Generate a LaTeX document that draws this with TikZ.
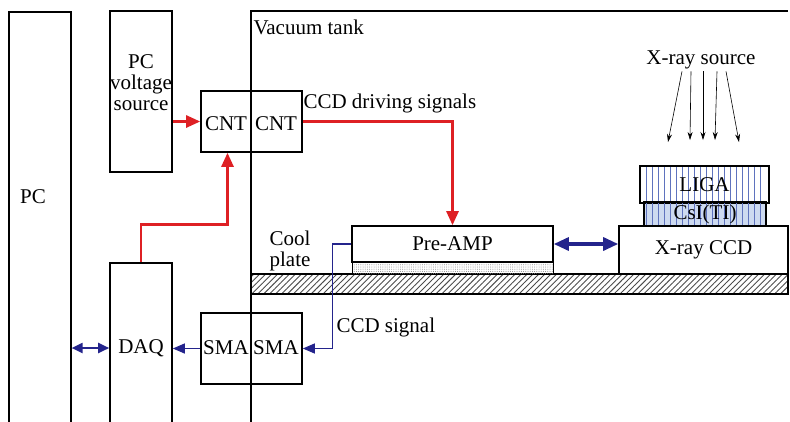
\documentclass[tikz,border=0pt]{standalone}
\usepackage{fontspec}
\setmainfont{Liberation Serif}
\usetikzlibrary{arrows.meta,patterns.meta}
\definecolor{sigred}{RGB}{222,32,36}
\definecolor{sigblue}{RGB}{36,36,140}
\definecolor{csiblue}{RGB}{205,218,240}
\definecolor{ligaline}{RGB}{95,115,190}
\tikzset{
  box/.style={draw,line width=1.6pt,inner sep=0pt},
  drive/.style={sigred,line width=2.6pt,-{Triangle[length=14pt,width=12pt]}},
  readout/.style={sigblue,line width=1.2pt,-{Triangle[length=12pt,width=10pt]}},
  link/.style={sigblue,line width=2pt,{Triangle[length=11pt,width=10pt]}-{Triangle[length=11pt,width=10pt]}},
  ray/.style={line width=0.6pt,-{Stealth[length=8pt,width=5pt]}},
  vline/.style={ligaline,line width=0.6pt},
}
\begin{document}
\begin{tikzpicture}[x=1pt,y=-1pt,font=\fontsize{21}{21}\selectfont]
  \useasboundingbox (0,0) rectangle (790,421);
  \clip (0,0) rectangle (790,421);
  % PC, runs off the bottom
  \node[box,anchor=north west,minimum width=62pt,minimum height=440pt] (pc) at (8,11) {};
  \node at (33,197) {PC};
  % PC voltage source
  \node[box,minimum width=62pt,minimum height=161pt] (pcv) at (141,91.5) {};
  \node[align=center,inner sep=0pt] at (141,83) {PC\\voltage\\source};
  % DAQ, runs off the bottom
  \node[box,minimum width=62pt,minimum height=170pt] (daq) at (141,348) {DAQ};
  % vacuum tank wall
  \draw[line width=1.6pt] (251,430) -- (251,11) -- (788,11);
  \node[anchor=west] at (250,27) {Vacuum tank};
  % feedthroughs in the wall
  \node[box,minimum width=101pt,minimum height=61pt] (cnt) at (251.5,121.5) {};
  \node at (226,124) {CNT};
  \node at (276,124) {CNT};
  \node[box,minimum width=101pt,minimum height=71pt] (sma) at (251.5,348.5) {};
  \node at (226,348) {SMA};
  \node at (276,348) {SMA};
  % cool plate
  \node[box,pattern={Lines[angle=45,distance=4.2pt,line width=0.9pt]},pattern color=black!70,
        minimum width=537pt,minimum height=20pt] (plate) at (519.5,284) {};
  \node[align=center,inner sep=0pt] at (290,251) {Cool\\plate};
  % pre-amplifier on its dotted base
  \node[box,minimum width=201pt,minimum height=36pt] (preamp) at (452.5,244) {Pre-AMP};
  \node[box,line width=1pt,pattern={Dots[distance=2.2pt,radius=0.5pt]},pattern color=black!50,
        minimum width=201pt,minimum height=12pt] (base) at (452.5,268) {};
  % CCD with scintillator and grating
  \node[box,minimum width=169pt,minimum height=48pt] (ccd) at (703.5,250) {X-ray CCD};
  \node[box,fill=csiblue,minimum width=122pt,minimum height=23pt] (csi) at (705,214.5) {};
  \node[box,fill=white,minimum width=129pt,minimum height=37pt] (liga) at (704.5,184.5) {};
  \foreach \x in {646,652,...,764}
    \draw[vline] (\x,167) -- (\x,225);
  \draw[line width=1.6pt] (csi.north west) -- (csi.north east);
  \node at (liga) {LIGA};
  \node at (csi) {CsI(TI)};
  % X-ray source
  \node[inner sep=2pt] (src) at (701,60) {X-ray source};
  \draw[ray] ([xshift=-19pt]src.south) -- (668,142);
  \draw[ray] ([xshift=-10pt]src.south) -- (690,140);
  \draw[ray] ([xshift=2pt]src.south) -- (703,140);
  \draw[ray] ([xshift=16pt]src.south) -- (715,140);
  \draw[ray] ([xshift=25pt]src.south) -- (739,142);
  % driving signals
  \draw[drive] (pcv.east |- cnt.west) -- (cnt.west);
  \draw[drive] (daq.north) -- ++(0,-38) -| ([xshift=-24pt]cnt.south);
  \draw[drive] (cnt.east) -| (preamp.north);
  \node[anchor=west] at (300,103) {CCD driving signals};
  % readout
  \draw[readout] (preamp.west) -- ++(-19,0) |- (sma.east);
  \draw[readout] (sma.west) -- (sma.west -| daq.east);
  \draw[link] (daq.west -| pc.east) -- (daq.west);
  \draw[link,line width=3.2pt,{Triangle[length=15pt,width=13pt]}-{Triangle[length=15pt,width=13pt]}]
    (preamp.east) -- (preamp.east -| ccd.west);
  \node[anchor=west] at (333,327) {CCD signal};
\end{tikzpicture}
\end{document}
